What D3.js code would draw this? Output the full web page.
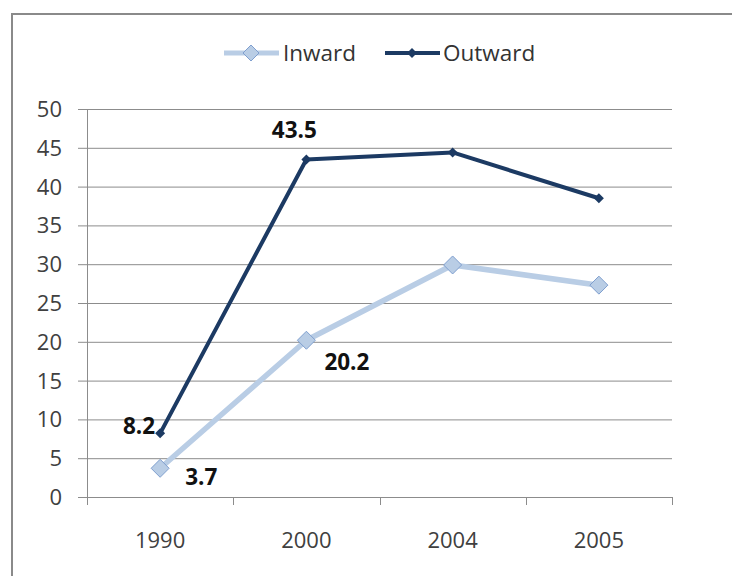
<!DOCTYPE html>
<html><head><meta charset="utf-8">
<script src="https://cdn.jsdelivr.net/npm/d3@7"></script>
<style>body{margin:0;background:#fff}svg{display:block}</style>
</head><body>
<svg id="c" width="732" height="576"></svg>
<script>
const categories = ["1990","2000","2004","2005"];
const inward = [3.7, 20.2, 29.9, 27.3];
const outward = [8.2, 43.5, 44.4, 38.5];
const yTicks = [0,5,10,15,20,25,30,35,40,45,50];
const seriesNames = ["Inward","Outward"];
const inwardLabels = [{i:0,text:"3.7"},{i:1,text:"20.2"}];
const outwardLabels = [{i:0,text:"8.2"},{i:1,text:"43.5"}];

const svg = d3.select("#c");
const font = "'Open Sans', sans-serif";
// frame
svg.append("rect").attr("x",12).attr("y",14).attr("width",760).attr("height",600)
  .attr("fill","#fff").attr("stroke","#8a8a8a").attr("stroke-width",2);

const x = d3.scaleBand().domain(categories).range([87,672]);
const y = d3.scaleLinear().domain([0,50]).range([497,109]);

const g = svg.append("g");
// gridlines
g.selectAll("line.grid").data(yTicks).join("line")
  .attr("x1",78).attr("x2",672).attr("y1",d=>y(d)+0.5).attr("y2",d=>y(d)+0.5)
  .attr("stroke","#8c8c8c").attr("stroke-width",1);
// y axis
g.append("line").attr("x1",87.5).attr("x2",87.5).attr("y1",y(50)).attr("y2",y(0)+8)
  .attr("stroke","#8c8c8c");
g.selectAll("text.yl").data(yTicks).join("text")
  .attr("x",62).attr("y",d=>y(d)).attr("dy","0.36em").attr("text-anchor","end")
  .attr("font-family",font).attr("font-size",22).attr("fill","#404040").text(d=>d);
// x axis ticks
const bounds = categories.map(c=>x(c)).concat([x.range()[1]]);
g.selectAll("line.xt").data(bounds.slice(1)).join("line")
  .attr("x1",d=>Math.round(d)+0.5).attr("x2",d=>Math.round(d)+0.5).attr("y1",y(0)).attr("y2",y(0)+8)
  .attr("stroke","#8c8c8c");
g.selectAll("text.xl").data(categories).join("text")
  .attr("x",d=>x(d)+x.bandwidth()/2).attr("y",548).attr("text-anchor","middle")
  .attr("font-family",font).attr("font-size",22).attr("fill","#404040").text(d=>d);

const cx = i => x(categories[i]) + x.bandwidth()/2;
const line = d3.line().x((d,i)=>cx(i)).y(d=>y(d));
const inC = "#b9cde5", inStroke="#7f9fcf", outC = "#1c3a63";

g.append("path").datum(inward).attr("d",line).attr("fill","none")
  .attr("stroke",inC).attr("stroke-width",5.5).attr("stroke-linejoin","round");
g.selectAll("path.im").data(inward).join("path")
  .attr("d","M0,-9L9,0L0,9L-9,0Z").attr("transform",(d,i)=>`translate(${cx(i)},${y(d)})`)
  .attr("fill",inC).attr("stroke",inStroke).attr("stroke-width",1);

g.append("path").datum(outward).attr("d",line).attr("fill","none")
  .attr("stroke",outC).attr("stroke-width",4).attr("stroke-linejoin","round");
g.selectAll("path.om").data(outward).join("path")
  .attr("d","M0,-5L5,0L0,5L-5,0Z").attr("transform",(d,i)=>`translate(${cx(i)},${y(d)})`)
  .attr("fill",outC);

// data labels
const lab = (i,v,t,dx,dy,anchor)=>g.append("text").attr("x",cx(i)+dx).attr("y",y(v)+dy)
  .attr("text-anchor",anchor).attr("font-family",font).attr("font-size",22.5)
  .attr("font-weight","bold").attr("fill","#111").text(t);
lab(inwardLabels[0].i, inward[0], inwardLabels[0].text, 25, 17, "start");
lab(inwardLabels[1].i, inward[1], inwardLabels[1].text, 18, 30, "start");
lab(outwardLabels[0].i, outward[0], outwardLabels[0].text, -5, 1, "end");
lab(outwardLabels[1].i, outward[1], outwardLabels[1].text, -12, -21, "middle");

// legend
const lg = svg.append("g");
lg.append("line").attr("x1",224).attr("x2",279).attr("y1",53).attr("y2",53).attr("stroke",inC).attr("stroke-width",5);
lg.append("path").attr("d","M0,-8L8,0L0,8L-8,0Z").attr("transform","translate(251,53)").attr("fill",inC).attr("stroke",inStroke);
lg.append("text").attr("x",283).attr("y",53).attr("dy","0.36em").attr("font-family",font).attr("font-size",22.5).attr("fill","#333").text(seriesNames[0]);
lg.append("line").attr("x1",385).attr("x2",440).attr("y1",53).attr("y2",53).attr("stroke",outC).attr("stroke-width",4);
lg.append("path").attr("d","M0,-5L5,0L0,5L-5,0Z").attr("transform","translate(412,53)").attr("fill",outC);
lg.append("text").attr("x",443).attr("y",53).attr("dy","0.36em").attr("font-family",font).attr("font-size",22.5).attr("fill","#333").text(seriesNames[1]);
</script>
</body></html>
